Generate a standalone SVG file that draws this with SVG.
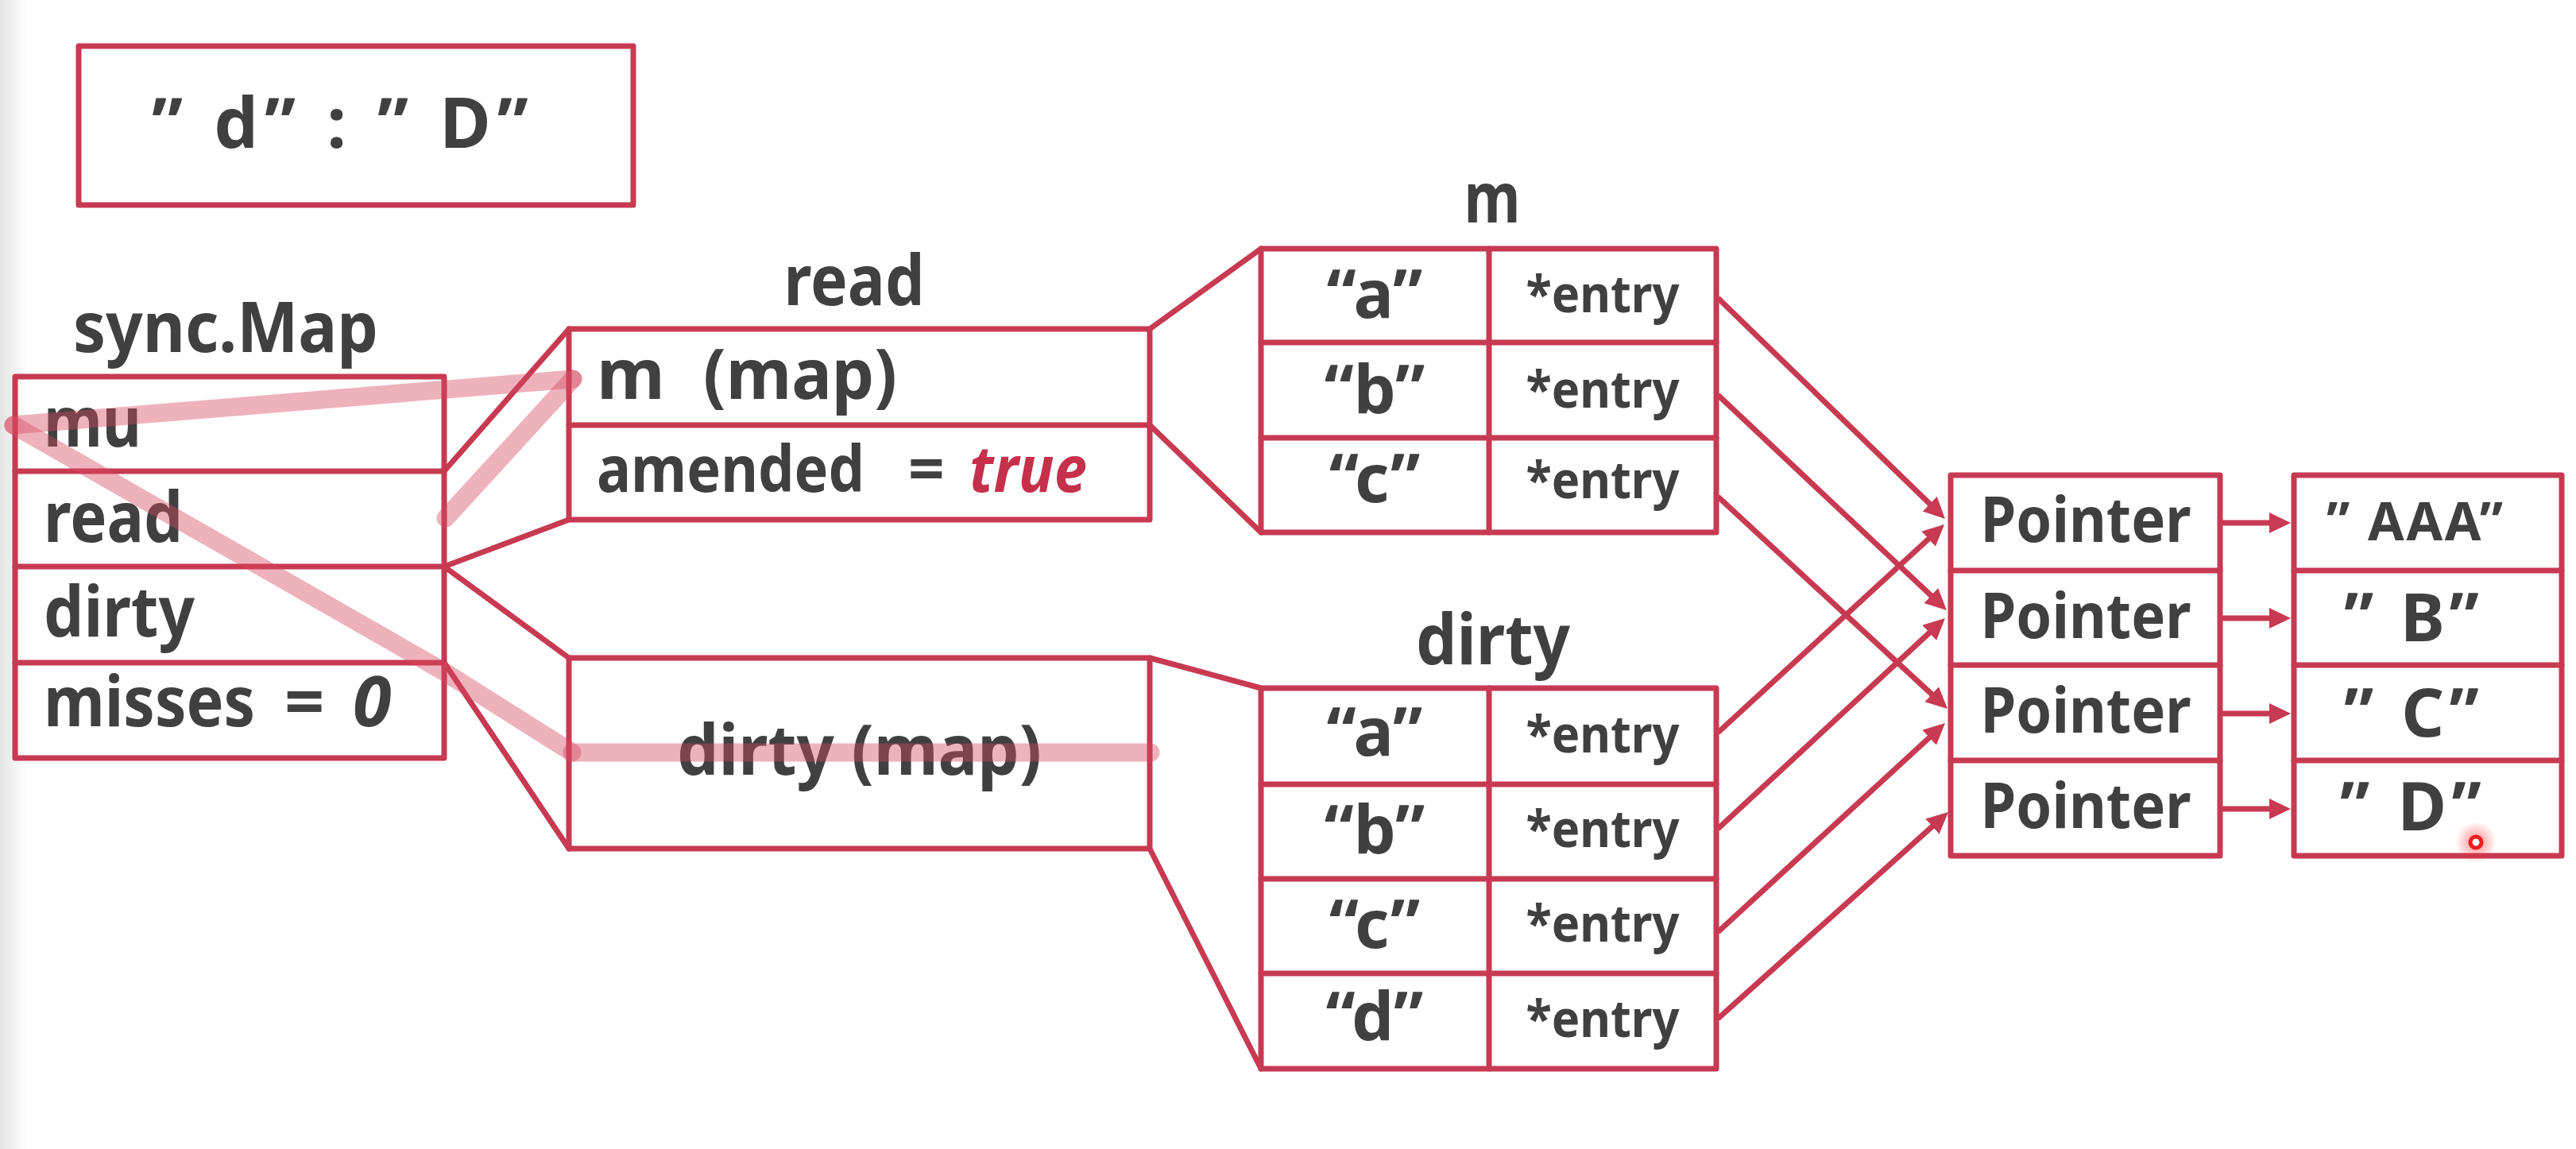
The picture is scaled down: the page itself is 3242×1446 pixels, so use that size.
<svg xmlns="http://www.w3.org/2000/svg" width="3242" height="1446" viewBox="0 0 3242 1446">
<style>
.bx{fill:none;stroke:#c73a52;stroke-width:7;stroke-linejoin:round}
.ln{fill:none;stroke:#c73a52;stroke-width:7;stroke-linecap:round}
.ar{fill:none;stroke:#c73a52;stroke-width:7;marker-end:url(#ah)}
.hl{fill:none;stroke:#d6485f;stroke-width:23;stroke-linecap:round;stroke-opacity:0.42}
text{font-family:"Noto Sans","Open Sans","Liberation Sans",sans-serif;font-weight:700;fill:#404040;white-space:pre}
.c{text-anchor:middle}
.it{font-style:italic}
.red{fill:#c5304a}
</style>
<defs>
<marker id="ah" markerUnits="userSpaceOnUse" markerWidth="30" markerHeight="28" refX="7" refY="13" orient="auto">
<path d="M0,0 L27,13 L0,26 Z" fill="#c73a52"/>
</marker>
<linearGradient id="edge" x1="0" x2="1" y1="0" y2="0">
<stop offset="0" stop-color="#e4e4e4"/>
<stop offset="1" stop-color="#ffffff"/>
</linearGradient>
<radialGradient id="glow">
<stop offset="0" stop-color="#ff2a2a" stop-opacity="0.55"/>
<stop offset="1" stop-color="#ff2a2a" stop-opacity="0"/>
</radialGradient>
</defs>
<rect x="0" y="0" width="3242" height="1446" fill="#ffffff"/>
<rect x="0" y="0" width="34" height="1446" fill="url(#edge)"/>

<g id="note">
<rect class="bx" x="99" y="58" width="698" height="200"/>
<text x="191" y="186" font-size="88" textLength="474" lengthAdjust="spacing" xml:space="preserve">” d” : ” D”</text>
</g>

<g id="syncmap">
<text x="92" y="443" font-size="88" textLength="384" lengthAdjust="spacingAndGlyphs">sync.Map</text>
<rect class="bx" x="19" y="474" width="540" height="480"/>
<line class="ln" x1="19" y1="593" x2="559" y2="593"/>
<line class="ln" x1="19" y1="713" x2="559" y2="713"/>
<line class="ln" x1="19" y1="834" x2="559" y2="834"/>
<text x="55" y="562" font-size="88" textLength="123" lengthAdjust="spacingAndGlyphs">mu</text>
<text x="55" y="682" font-size="88" textLength="175" lengthAdjust="spacingAndGlyphs">read</text>
<text x="55" y="801" font-size="88" textLength="190" lengthAdjust="spacingAndGlyphs">dirty</text>
<text y="914" font-size="88" xml:space="preserve"><tspan x="55" textLength="266" lengthAdjust="spacingAndGlyphs">misses</tspan><tspan> </tspan><tspan x="358">= </tspan><tspan x="444" class="it">0</tspan></text>
</g>

<g id="read">
<text class="c" x="1075" y="384" font-size="88" textLength="177" lengthAdjust="spacingAndGlyphs">read</text>
<rect class="bx" x="716" y="414" width="731" height="240"/>
<line class="ln" x1="716" y1="535" x2="1447" y2="535"/>
<text y="502" font-size="88" xml:space="preserve"><tspan x="751">m </tspan><tspan x="885" textLength="244" lengthAdjust="spacingAndGlyphs">(map)</tspan></text>
<text y="619" font-size="80" xml:space="preserve"><tspan x="751" textLength="337" lengthAdjust="spacingAndGlyphs">amended</tspan><tspan> </tspan><tspan x="1143">= </tspan><tspan x="1220" class="it red" textLength="148" lengthAdjust="spacingAndGlyphs">true</tspan></text>
</g>

<g id="dirtymap">
<rect class="bx" x="716" y="828" width="731" height="240"/>
<text x="852" y="975" font-size="88" textLength="459" lengthAdjust="spacingAndGlyphs">dirty (map)</text>
</g>

<g id="m">
<text class="c" x="1878" y="280" font-size="88" textLength="71" lengthAdjust="spacingAndGlyphs">m</text>
<rect class="bx" x="1587" y="313" width="573" height="357"/>
<line class="ln" x1="1587" y1="431" x2="2160" y2="431"/>
<line class="ln" x1="1587" y1="551" x2="2160" y2="551"/>
<line class="ln" x1="1874" y1="313" x2="1874" y2="670"/>
<text class="c" x="1730" y="400" font-size="84">“a”</text>
<text class="c" x="1730" y="520" font-size="84">“b”</text>
<text class="c" x="1730" y="632" font-size="84">“c”</text>
<text class="c" x="2017" y="393" font-size="64" textLength="193" lengthAdjust="spacingAndGlyphs">*entry</text>
<text class="c" x="2017" y="513" font-size="64" textLength="193" lengthAdjust="spacingAndGlyphs">*entry</text>
<text class="c" x="2017" y="627" font-size="64" textLength="193" lengthAdjust="spacingAndGlyphs">*entry</text>
</g>

<g id="dirty">
<text class="c" x="1879" y="836" font-size="88" textLength="194" lengthAdjust="spacingAndGlyphs">dirty</text>
<rect class="bx" x="1587" y="866" width="573" height="479"/>
<line class="ln" x1="1587" y1="987" x2="2160" y2="987"/>
<line class="ln" x1="1587" y1="1106" x2="2160" y2="1106"/>
<line class="ln" x1="1587" y1="1225" x2="2160" y2="1225"/>
<line class="ln" x1="1874" y1="866" x2="1874" y2="1345"/>
<text class="c" x="1730" y="951" font-size="84">“a”</text>
<text class="c" x="1730" y="1074" font-size="84">“b”</text>
<text class="c" x="1730" y="1193" font-size="84">“c”</text>
<text class="c" x="1730" y="1309" font-size="84">“d”</text>
<text class="c" x="2017" y="947" font-size="64" textLength="193" lengthAdjust="spacingAndGlyphs">*entry</text>
<text class="c" x="2017" y="1066" font-size="64" textLength="193" lengthAdjust="spacingAndGlyphs">*entry</text>
<text class="c" x="2017" y="1185" font-size="64" textLength="193" lengthAdjust="spacingAndGlyphs">*entry</text>
<text class="c" x="2017" y="1305" font-size="64" textLength="193" lengthAdjust="spacingAndGlyphs">*entry</text>
</g>

<g id="pointers">
<rect class="bx" x="2455" y="598" width="339" height="479"/>
<line class="ln" x1="2455" y1="718" x2="2794" y2="718"/>
<line class="ln" x1="2455" y1="837" x2="2794" y2="837"/>
<line class="ln" x1="2455" y1="957" x2="2794" y2="957"/>
<text class="c" x="2625" y="682" font-size="78" textLength="265" lengthAdjust="spacingAndGlyphs">Pointer</text>
<text class="c" x="2625" y="803" font-size="78" textLength="265" lengthAdjust="spacingAndGlyphs">Pointer</text>
<text class="c" x="2625" y="922" font-size="78" textLength="265" lengthAdjust="spacingAndGlyphs">Pointer</text>
<text class="c" x="2625" y="1042" font-size="78" textLength="265" lengthAdjust="spacingAndGlyphs">Pointer</text>
</g>

<g id="values">
<rect class="bx" x="2887" y="598" width="337" height="479"/>
<line class="ln" x1="2887" y1="718" x2="3224" y2="718"/>
<line class="ln" x1="2887" y1="837" x2="3224" y2="837"/>
<line class="ln" x1="2887" y1="957" x2="3224" y2="957"/>
<text x="2928" y="680" font-size="66" textLength="222" lengthAdjust="spacing" xml:space="preserve">” AAA”</text>
<text x="2950" y="807" font-size="84" textLength="170" lengthAdjust="spacing" xml:space="preserve">” B”</text>
<text x="2950" y="927" font-size="84" textLength="170" lengthAdjust="spacing" xml:space="preserve">” C”</text>
<text x="2945" y="1045" font-size="84" textLength="178" lengthAdjust="spacing" xml:space="preserve">” D”</text>
</g>

<g id="connectors">
<line class="ln" x1="559" y1="593" x2="716" y2="414"/>
<line class="ln" x1="559" y1="713" x2="716" y2="654"/>
<line class="ln" x1="559" y1="713" x2="716" y2="828"/>
<line class="ln" x1="559" y1="834" x2="716" y2="1068"/>
<line class="ln" x1="1447" y1="414" x2="1587" y2="313"/>
<line class="ln" x1="1447" y1="535" x2="1587" y2="670"/>
<line class="ln" x1="1447" y1="828" x2="1587" y2="866"/>
<line class="ln" x1="1447" y1="1068" x2="1587" y2="1345"/>
<line class="ar" x1="2162" y1="375" x2="2433.7" y2="639.1"/>
<line class="ar" x1="2162" y1="497" x2="2435.4" y2="754.3"/>
<line class="ar" x1="2162" y1="625" x2="2436.3" y2="878.4"/>
<line class="ar" x1="2162" y1="922" x2="2432.3" y2="673.5"/>
<line class="ar" x1="2162" y1="1043" x2="2433.3" y2="791.6"/>
<line class="ar" x1="2162" y1="1173" x2="2433.3" y2="923.5"/>
<line class="ar" x1="2162" y1="1282" x2="2437.1" y2="1035.4"/>
<line class="ar" x1="2797" y1="658" x2="2863" y2="658"/>
<line class="ar" x1="2797" y1="778" x2="2863" y2="778"/>
<line class="ar" x1="2797" y1="898" x2="2863" y2="898"/>
<line class="ar" x1="2797" y1="1018" x2="2863" y2="1018"/>
</g>

<g id="highlight">
<line class="hl" x1="17" y1="535" x2="721" y2="477"/>
<line class="hl" x1="561" y1="652" x2="721" y2="477"/>
<polyline class="hl" points="17,535 560,846 720,947" stroke-linejoin="round"/>
<line class="hl" x1="720" y1="947" x2="1448" y2="947"/>
</g>

<g id="cursor">
<circle cx="3116" cy="1060" r="26" fill="url(#glow)"/>
<circle cx="3116" cy="1060" r="7" fill="#ffffff" stroke="#f01c1c" stroke-width="5"/>
</g>
</svg>
